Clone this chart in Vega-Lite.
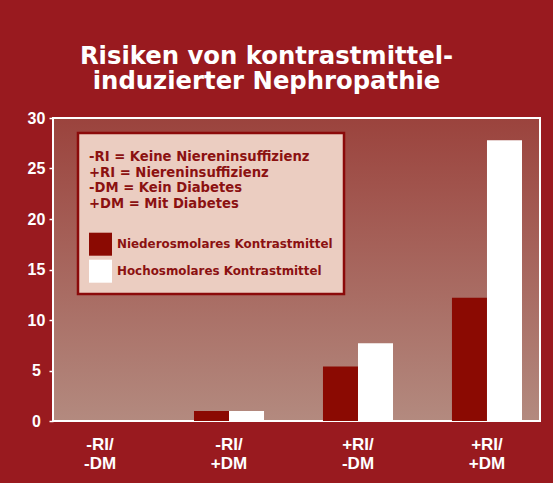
{
  "$schema": "https://vega.github.io/schema/vega-lite/v6.json",
  "width": 487,
  "height": 303,
  "autosize": {"type": "none"},
  "padding": {"left": 53, "top": 118, "right": 13, "bottom": 62},
  "background": "#991A1F",
  "title": {
    "text": ["Risiken von kontrastmittel-", "induzierter Nephropathie"],
    "color": "#FFFFFF",
    "fontSize": 24.3,
    "fontWeight": "bold",
    "font": "DejaVu Sans",
    "lineHeight": 24.3,
    "anchor": "middle",
    "frame": "group",
    "dx": -30,
    "offset": 16
  },
  "data": {
    "values": [
      {"group": "-RI/ -DM", "type": "Niederosmolares Kontrastmittel", "value": 0},
      {"group": "-RI/ -DM", "type": "Hochosmolares Kontrastmittel", "value": 0},
      {"group": "-RI/ +DM", "type": "Niederosmolares Kontrastmittel", "value": 1.0},
      {"group": "-RI/ +DM", "type": "Hochosmolares Kontrastmittel", "value": 1.0},
      {"group": "+RI/ -DM", "type": "Niederosmolares Kontrastmittel", "value": 5.4},
      {"group": "+RI/ -DM", "type": "Hochosmolares Kontrastmittel", "value": 7.7},
      {"group": "+RI/ +DM", "type": "Niederosmolares Kontrastmittel", "value": 12.2},
      {"group": "+RI/ +DM", "type": "Hochosmolares Kontrastmittel", "value": 27.8}
    ]
  },
  "mark": {"type": "bar"},
  "encoding": {
    "x": {
      "field": "group",
      "type": "nominal",
      "sort": ["-RI/ -DM", "-RI/ +DM", "+RI/ -DM", "+RI/ +DM"],
      "scale": {"range": [-17.5, 498.5], "paddingInner": 0.457, "paddingOuter": 0.2287},
      "axis": {
        "title": null,
        "labelAngle": 0,
        "labelExpr": "split(datum.label, ' ')",
        "labelColor": "#FFFFFF",
        "labelFontSize": 17,
        "labelFontWeight": "bold",
        "labelLineHeight": 19,
        "labelOverlap": false,
        "ticks": false,
        "domain": false,
        "labelPadding": 15
      }
    },
    "xOffset": {
      "field": "type",
      "type": "nominal",
      "sort": ["Niederosmolares Kontrastmittel", "Hochosmolares Kontrastmittel"],
      "scale": {"paddingInner": 0, "paddingOuter": 0}
    },
    "y": {
      "field": "value",
      "type": "quantitative",
      "scale": {"domain": [0, 30], "nice": false},
      "axis": {
        "title": null,
        "values": [0, 5, 10, 15, 20, 25, 30],
        "grid": false,
        "domain": false,
        "tickColor": "#FFFFFF",
        "tickSize": 4,
        "tickWidth": 1.5,
        "labelColor": "#FFFFFF",
        "labelFontSize": 16,
        "labelFontWeight": "bold",
        "labelAlign": "center",
        "labelPadding": 13
      }
    },
    "color": {
      "field": "type",
      "type": "nominal",
      "scale": {
        "domain": ["Niederosmolares Kontrastmittel", "Hochosmolares Kontrastmittel"],
        "range": ["#8B0A02", "#FFFFFF"]
      },
      "legend": {
        "orient": "none",
        "legendX": 25,
        "legendY": 15,
        "title": ["-RI = Keine Niereninsuffizienz", "+RI = Niereninsuffizienz", "-DM = Kein Diabetes", "+DM = Mit Diabetes"],
        "titleColor": "#8B1111",
        "titleFont": "DejaVu Sans",
        "titleFontSize": 13.2,
        "titleFontWeight": "bold",
        "titleLineHeight": 15.5,
        "titlePadding": 29,
        "titleLimit": 400,
        "labelColor": "#8B1111",
        "labelFont": "DejaVu Sans",
        "labelFontSize": 11.9,
        "labelFontWeight": "bold",
        "labelLimit": 400,
        "labelOffset": 5,
        "symbolType": "square",
        "symbolSize": 529,
        "symbolStrokeWidth": 0,
        "symbolOpacity": 1,
        "rowPadding": 4,
        "padding": 11,
        "fillColor": "#EBCDC1",
        "strokeColor": "#8B0A0A",
        "cornerRadius": 0,
        "encode": {
          "legend": {"update": {"strokeWidth": {"value": 2.5}}},
          "title": {"update": {"dy": {"value": 7}}}
        }
      }
    }
  },
  "config": {
    "font": "Liberation Sans",
    "view": {
      "stroke": "#FFFFFF",
      "strokeWidth": 2,
      "fill": {
        "gradient": "linear",
        "x1": 0, "y1": 0, "x2": 0, "y2": 1,
        "stops": [
          {"offset": 0, "color": "#9B433D"},
          {"offset": 1, "color": "#B38A7F"}
        ]
      }
    }
  }
}
